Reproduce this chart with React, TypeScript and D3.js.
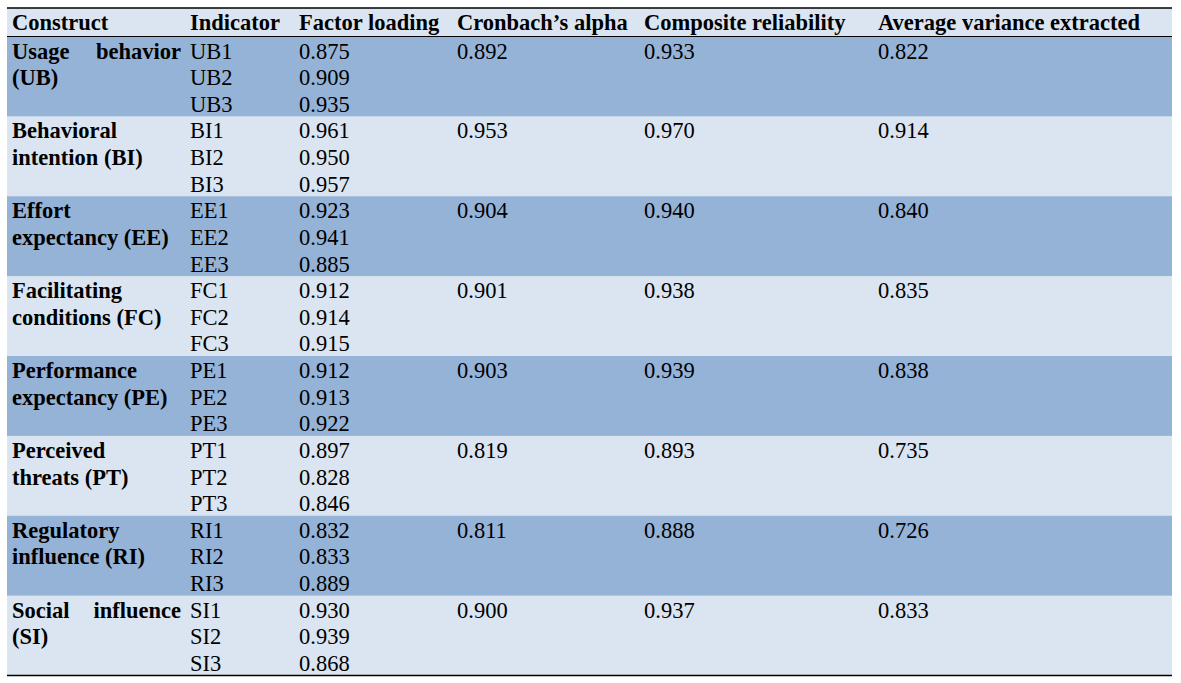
import React from 'react'
import * as d3 from 'd3'

const headers = ['Construct', 'Indicator', 'Factor loading', 'Cronbach\u2019s alpha', 'Composite reliability', 'Average variance extracted']

const constructLines = [
  ['Usage behavior', '(UB)'],
  ['Behavioral', 'intention (BI)'],
  ['Effort', 'expectancy (EE)'],
  ['Facilitating', 'conditions (FC)'],
  ['Performance', 'expectancy (PE)'],
  ['Perceived', 'threats (PT)'],
  ['Regulatory', 'influence (RI)'],
  ['Social influence', '(SI)'],
]
// first lines that are justified across the column in the source
const justified = [true, false, false, false, false, false, false, true]

const indicators = [
  ['UB1', 'UB2', 'UB3'],
  ['BI1', 'BI2', 'BI3'],
  ['EE1', 'EE2', 'EE3'],
  ['FC1', 'FC2', 'FC3'],
  ['PE1', 'PE2', 'PE3'],
  ['PT1', 'PT2', 'PT3'],
  ['RI1', 'RI2', 'RI3'],
  ['SI1', 'SI2', 'SI3'],
]

const loadings = [
  ['0.875', '0.909', '0.935'],
  ['0.961', '0.950', '0.957'],
  ['0.923', '0.941', '0.885'],
  ['0.912', '0.914', '0.915'],
  ['0.912', '0.913', '0.922'],
  ['0.897', '0.828', '0.846'],
  ['0.832', '0.833', '0.889'],
  ['0.930', '0.939', '0.868'],
]

const alphas = ['0.892', '0.953', '0.904', '0.901', '0.903', '0.819', '0.811', '0.900']
const compositeRel = ['0.933', '0.970', '0.940', '0.938', '0.939', '0.893', '0.888', '0.937']
const ave = ['0.822', '0.914', '0.840', '0.835', '0.838', '0.735', '0.726', '0.833']

const W = 1181
const H = 683
const left = 7
const right = 1172
const top = 8
const headerBottom = 36.5
const bottom = 675.5
const colX = [12, 190, 299, 457, 644, 878]
const constructRight = 181

const DARK = '#95B3D7'
const LIGHT = '#DBE5F1'
const FONT = '"Liberation Serif", "Times New Roman", serif'
const FS = 22.5

export default function App() {
  const groupY = d3.scaleBand<number>()
    .domain(d3.range(constructLines.length))
    .range([headerBottom, bottom])
    .padding(0)
  const gh = groupY.bandwidth()
  const lineH = gh / 3
  const baseOff = 22

  return (
    <svg width={W} height={H} style={{ position: 'absolute', left: 0, top: 0, background: '#fff' }}
      fontFamily={FONT} fontSize={FS}>
      <rect x={left} y={top} width={right - left} height={headerBottom - top} fill={LIGHT} />
      {headers.map((h, i) => (
        <text key={h} x={colX[i]} y={30} fontWeight="bold" fill="#000">{h}</text>
      ))}
      {constructLines.map((lines, g) => {
        const y0 = groupY(g)!
        const rowVals = [alphas[g], compositeRel[g], ave[g]]
        return (
          <g key={g}>
            <rect x={left} y={y0} width={right - left} height={gh + 0.5} fill={g % 2 === 0 ? DARK : LIGHT} />
            {lines.map((t, k) => {
              const y = y0 + baseOff + k * lineH
              if (k === 0 && justified[g]) {
                const words = t.split(' ')
                return (
                  <g key={k} fontWeight="bold">
                    <text x={colX[0]} y={y}>{words[0]}</text>
                    <text x={constructRight} y={y} textAnchor="end">{words[1]}</text>
                  </g>
                )
              }
              return <text key={k} x={colX[0]} y={y} fontWeight="bold">{t}</text>
            })}
            {indicators[g].map((t, k) => (
              <text key={'i' + k} x={colX[1]} y={y0 + baseOff + k * lineH}>{t}</text>
            ))}
            {loadings[g].map((t, k) => (
              <text key={'l' + k} x={colX[2]} y={y0 + baseOff + k * lineH}>{t}</text>
            ))}
            {rowVals.map((t, k) => (
              <text key={'v' + k} x={colX[3 + k]} y={y0 + baseOff}>{t}</text>
            ))}
          </g>
        )
      })}
      <line x1={left} x2={right} y1={top} y2={top} stroke="#000" strokeWidth={1.5} />
      <line x1={left} x2={right} y1={headerBottom} y2={headerBottom} stroke="#000" strokeWidth={1} />
      <line x1={left} x2={right} y1={bottom} y2={bottom} stroke="#000" strokeWidth={1.5} />
    </svg>
  )
}
